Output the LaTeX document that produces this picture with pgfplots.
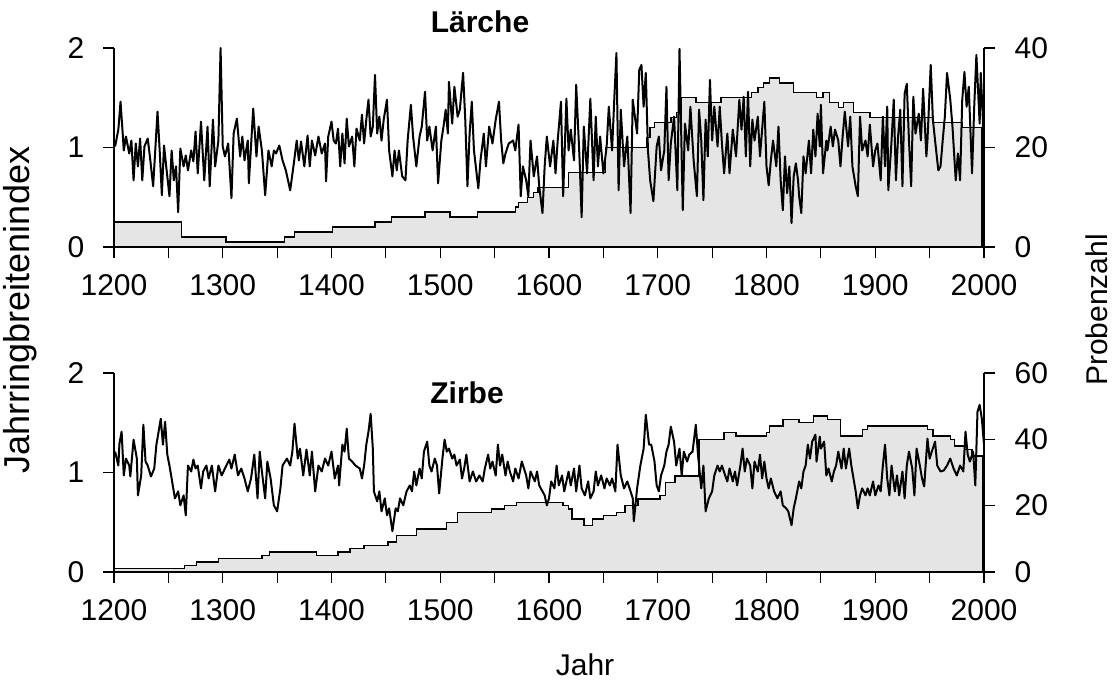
\documentclass[border=0pt]{standalone}
\usepackage{fontspec}
\setmainfont{Liberation Sans}
\usepackage{pgfplots}
\pgfplotsset{compat=1.18}

\newcommand\fs{\fontsize{15}{18}\selectfont}

\pgfplotsset{
  panel/.style={scale only axis, width=435pt, height=99.5pt,
    xmin=1200, xmax=2000, tick align=outside,
    major tick length=5.3pt, minor tick length=5.3pt,
    tick style={black, line width=0.6pt},
    axis line style={black, line width=0.6pt, -},
    tick label style={font=\fs},
    /pgf/number format/assume math mode=true,
    /pgf/number format/1000 sep={}},
  indexax/.style={panel, axis x line*=bottom, axis y line*=left,
    ymin=0, ymax=2, ytick={0,1,2},
    xtick={1200,1300,...,2000}, minor xtick={1250,1350,...,1950},
    xticklabel style={yshift=-5pt}, yticklabel style={xshift=-6pt}},
  countax/.style={panel, axis x line=none, axis y line*=right,
    yticklabel style={xshift=6.5pt}},
  depth/.style={const plot, draw=black, line width=0.7pt, fill=gray!20},
  ring/.style={black, line width=1.0pt, line join=round}
}

\begin{document}
\begin{tikzpicture}
\useasboundingbox (0,0) rectangle (556.5pt,342pt);

% ---------- Laerche ----------
\begin{axis}[countax, at={(57pt,218.5pt)}, anchor=south west,
  ymin=0, ymax=40, ytick={0,20,40}]
\addplot[depth] coordinates {
(1200,5) (1262,2) (1303,1) (1357,2) (1366,3) (1401,4) (1440,5) (1455,6)
(1486,7) (1509,6) (1534,7) (1569,8) (1572,9) (1580,10) (1586,11) (1590,12)
(1618,15) (1652,20) (1690,22) (1693,24) (1697,25) (1712,26) (1717,27)
(1722,30) (1735,29) (1758,30) (1786,31) (1792,32) (1797,33) (1803,34)
(1812,33) (1825,31) (1846,30) (1852,31) (1858,29) (1866,28) (1871,29)
(1880,27) (1895,26) (1953,25) (1980,24) (1998,0) (2000,0)
} \closedcycle;
\end{axis}

\begin{axis}[indexax, at={(57pt,218.5pt)}, anchor=south west]
\addplot[ring] coordinates {
(1201,1.01) (1204,1.18) (1206,1.46) (1208,1.14) (1209,0.97) (1211,1.11)
(1214,0.94) (1216,1.07) (1218,0.67) (1220,1.04) (1222,0.81) (1224,1.09)
(1226,0.67) (1228,1.01) (1231,1.09) (1233,0.91) (1236,0.61) (1240,1.36)
(1242,0.97) (1244,0.52) (1246,1.02) (1248,0.81) (1251,0.51) (1253,0.97)
(1255,0.67) (1257,0.81) (1259,0.35) (1261,0.99) (1264,0.81) (1266,0.92)
(1268,0.77) (1271,0.97) (1273,0.86) (1275,1.16) (1277,0.74) (1280,1.26)
(1283,0.67) (1286,1.21) (1288,0.61) (1291,1.28) (1293,0.81) (1296,1.07)
(1298,2.00) (1300,1.01) (1302,0.91) (1305,1.04) (1308,0.49) (1310,1.14)
(1313,1.29) (1316,0.91) (1318,1.11) (1320,0.87) (1323,1.07) (1324,0.64)
(1328,1.39) (1331,0.91) (1333,1.21) (1336,0.97) (1339,0.52) (1342,0.97)
(1345,0.81) (1347,0.97) (1349,0.94) (1352,1.02) (1355,0.87) (1358,0.77)
(1362,0.57) (1365,0.81) (1368,1.07) (1370,0.87) (1372,1.06) (1375,0.81)
(1378,1.12) (1380,0.81) (1382,1.07) (1385,0.92) (1388,1.11) (1391,0.94)
(1394,1.04) (1395,0.66) (1397,1.11) (1400,1.26) (1402,1.07) (1404,1.04)
(1406,1.19) (1408,0.81) (1410,1.14) (1412,0.84) (1414,1.29) (1416,1.01)
(1419,1.11) (1421,0.81) (1423,1.19) (1426,1.07) (1428,1.33) (1430,1.04)
(1432,1.28) (1434,1.48) (1436,1.11) (1438,1.21) (1440,1.73) (1442,1.14)
(1444,1.31) (1446,1.07) (1448,1.28) (1451,1.48) (1453,0.97) (1456,0.71)
(1458,0.97) (1460,0.77) (1462,0.97) (1465,0.71) (1468,0.67) (1470,1.07)
(1473,1.43) (1475,1.11) (1478,0.81) (1481,1.11) (1483,1.21) (1486,1.56)
(1488,1.07) (1490,1.21) (1493,0.97) (1496,1.21) (1498,0.64) (1501,1.07)
(1503,1.21) (1505,1.38) (1507,1.14) (1508,1.66) (1511,1.24) (1513,1.61)
(1516,1.31) (1518,1.38) (1521,1.75) (1523,1.28) (1525,0.61) (1527,1.14)
(1529,1.46) (1531,0.97) (1535,0.59) (1537,0.87) (1540,1.14) (1542,0.81)
(1545,1.21) (1548,1.04) (1551,1.28) (1554,1.46) (1556,1.07) (1558,0.84)
(1560,0.94) (1563,1.04) (1567,1.07) (1569,0.97) (1572,1.23) (1574,0.51)
(1576,0.81) (1579,0.67) (1581,0.51) (1583,1.07) (1586,0.71) (1589,0.91)
(1591,0.61) (1594,0.34) (1596,0.81) (1598,1.11) (1601,0.81) (1604,1.07)
(1606,0.74) (1608,1.07) (1611,1.46) (1613,0.51) (1616,1.49) (1618,0.97)
(1620,1.18) (1623,0.87) (1625,1.63) (1628,0.91) (1630,0.30) (1632,1.21)
(1635,0.74) (1638,1.49) (1641,0.67) (1643,1.31) (1645,0.81) (1647,1.11)
(1650,0.74) (1653,1.01) (1655,1.41) (1658,0.97) (1660,1.48) (1662,1.95)
(1664,0.57) (1666,1.38) (1669,0.81) (1672,1.11) (1675,0.34) (1677,1.48)
(1681,1.14) (1683,1.78) (1685,1.83) (1687,1.41) (1689,1.75) (1691,0.97)
(1693,0.67) (1696,0.46) (1699,1.01) (1701,1.11) (1703,0.77) (1706,0.97)
(1708,1.61) (1710,0.67) (1712,1.04) (1715,1.31) (1718,0.57) (1720,1.99)
(1723,0.37) (1725,1.24) (1728,0.97) (1730,1.41) (1733,0.87) (1736,0.51)
(1738,1.38) (1740,1.07) (1742,0.47) (1744,1.28) (1746,0.91) (1748,1.68)
(1750,1.07) (1752,1.41) (1755,1.01) (1757,1.41) (1759,1.04) (1761,0.74)
(1764,1.14) (1766,0.74) (1769,1.18) (1772,0.91) (1775,1.48) (1777,1.18)
(1779,1.51) (1781,0.91) (1783,1.56) (1785,0.81) (1787,1.28) (1789,1.07)
(1792,1.31) (1794,0.91) (1798,1.46) (1800,0.81) (1802,0.62) (1804,0.87)
(1806,1.07) (1809,0.81) (1811,1.21) (1813,0.67) (1815,0.37) (1817,0.91)
(1819,0.54) (1821,0.81) (1823,0.24) (1825,0.71) (1827,0.84) (1829,0.67)
(1830,0.51) (1832,0.34) (1834,0.91) (1836,0.74) (1839,1.07) (1841,0.74)
(1843,1.18) (1845,0.91) (1847,1.34) (1849,1.01) (1850,1.43) (1852,0.74)
(1855,1.07) (1856,0.97) (1859,1.21) (1861,1.01) (1863,1.18) (1866,1.07)
(1868,0.81) (1870,1.11) (1872,1.36) (1875,1.01) (1877,1.31) (1879,0.81)
(1882,0.61) (1884,0.51) (1886,1.31) (1888,0.97) (1891,1.07) (1893,0.91)
(1895,1.23) (1898,0.81) (1900,0.97) (1902,1.04) (1905,0.67) (1907,1.31)
(1909,0.81) (1911,1.41) (1912,0.57) (1915,1.07) (1917,1.48) (1919,0.67)
(1921,1.11) (1923,1.38) (1925,0.61) (1927,1.54) (1929,1.64) (1931,1.07)
(1933,0.61) (1935,1.51) (1937,1.14) (1940,1.34) (1942,1.07) (1944,1.59)
(1947,0.91) (1948,1.07) (1951,1.83) (1953,1.28) (1955,1.07) (1958,0.77)
(1960,0.81) (1962,1.07) (1964,1.31) (1966,1.75) (1969,1.48) (1971,1.21)
(1974,0.67) (1976,0.94) (1978,0.67) (1980,1.48) (1982,1.76) (1984,1.41)
(1986,1.61) (1989,0.74) (1991,1.41) (1993,1.93) (1996,1.24) (1997,1.75)
(1999,1.28) (2000,0)
};
\end{axis}

% ---------- Zirbe ----------
\begin{axis}[countax, at={(57pt,56pt)}, anchor=south west,
  ymin=0, ymax=60, ytick={0,20,40,60}]
\addplot[depth] coordinates {
(1200,1) (1265,2) (1276,3) (1296,4) (1336,5) (1343,6) (1386,5) (1406,6)
(1417,7) (1430,8) (1452,9) (1460,11) (1478,13) (1506,15) (1516,18)
(1547,19) (1559,20) (1570,21) (1613,20) (1618,19) (1621,16) (1632,14)
(1640,16) (1650,17) (1662,18) (1670,20) (1682,22) (1702,23) (1707,27)
(1716,29) (1738,40) (1761,42) (1772,41) (1790,41) (1800,42) (1803,44)
(1815,46) (1830,45) (1843,47) (1856,46) (1868,41) (1888,43) (1893,44)
(1948,43) (1953,41) (1969,40) (1973,38) (1982,37) (1989,35) (1999,0)
(2000,0)
} \closedcycle;
\end{axis}

\begin{axis}[indexax, at={(57pt,56pt)}, anchor=south west]
\addplot[ring] coordinates {
(1201,1.21) (1204,1.07) (1205,1.29) (1207,1.41) (1209,0.97) (1211,1.14)
(1214,1.07) (1215,0.96) (1218,1.33) (1221,1.14) (1222,0.77) (1225,0.97)
(1227,1.48) (1229,1.11) (1231,1.07) (1234,0.96) (1237,1.04) (1239,1.28)
(1241,1.41) (1243,1.54) (1245,1.28) (1247,1.51) (1249,1.18) (1251,1.07)
(1253,0.94) (1256,0.74) (1259,0.81) (1261,0.67) (1264,0.77) (1266,0.57)
(1268,1.07) (1271,1.01) (1273,1.13) (1275,1.04) (1277,1.07) (1280,0.84)
(1282,1.01) (1285,1.07) (1287,0.94) (1290,1.07) (1293,0.81) (1296,1.07)
(1299,0.97) (1302,1.04) (1306,1.13) (1308,1.04) (1311,1.18) (1314,0.97)
(1317,1.04) (1320,0.94) (1323,0.81) (1326,0.94) (1329,1.18) (1332,0.74)
(1334,1.21) (1336,1.01) (1339,0.74) (1341,1.11) (1344,0.94) (1347,0.67)
(1350,0.61) (1353,0.84) (1355,1.07) (1359,1.14) (1362,1.07) (1364,1.21)
(1366,1.49) (1369,1.14) (1371,1.24) (1374,0.97) (1377,1.23) (1380,0.97)
(1382,1.21) (1385,0.81) (1388,1.07) (1391,1.01) (1394,1.14) (1397,1.07)
(1400,1.21) (1403,0.94) (1406,1.07) (1407,0.87) (1410,1.28) (1412,1.21)
(1414,1.44) (1416,1.14) (1419,1.11) (1422,1.07) (1426,1.04) (1428,0.94)
(1430,1.07) (1432,1.28) (1434,1.41) (1436,1.59) (1438,1.24) (1439,0.81)
(1442,0.71) (1444,0.81) (1446,0.61) (1449,0.74) (1451,0.57) (1453,0.64)
(1456,0.41) (1459,0.64) (1461,0.61) (1463,0.74) (1466,0.67) (1469,0.81)
(1472,0.87) (1474,0.81) (1476,1.01) (1478,0.87) (1481,1.04) (1483,0.94)
(1485,1.21) (1488,1.31) (1490,1.07) (1492,1.01) (1495,1.14) (1497,1.07)
(1499,0.79) (1502,1.14) (1504,1.33) (1506,1.21) (1508,1.24) (1511,1.14)
(1513,1.18) (1515,1.07) (1518,1.13) (1520,0.94) (1522,1.04) (1524,1.18)
(1527,0.91) (1530,1.01) (1533,0.91) (1536,0.97) (1539,0.91) (1541,1.04)
(1544,1.18) (1546,1.04) (1548,1.11) (1551,0.97) (1553,1.28) (1555,1.07)
(1557,1.18) (1560,0.97) (1562,1.11) (1564,1.01) (1567,0.91) (1569,1.04)
(1572,0.94) (1575,1.11) (1577,1.04) (1579,0.97) (1581,0.84) (1583,1.01)
(1587,0.91) (1589,1.01) (1591,0.87) (1594,0.81) (1596,0.77) (1598,0.67)
(1600,0.74) (1602,0.91) (1605,0.84) (1607,1.07) (1609,0.87) (1612,0.97)
(1614,0.81) (1618,1.01) (1620,0.87) (1623,1.04) (1625,0.81) (1628,1.07)
(1630,0.84) (1633,0.77) (1636,0.91) (1638,0.74) (1641,0.81) (1643,1.01)
(1645,0.87) (1648,0.97) (1651,0.84) (1653,0.94) (1656,0.87) (1658,0.94)
(1661,0.81) (1663,1.28) (1666,0.97) (1669,0.84) (1672,0.91) (1675,0.81)
(1677,0.74) (1678,0.51) (1681,0.84) (1684,1.07) (1687,1.24) (1689,1.58)
(1692,1.28) (1694,1.28) (1697,1.11) (1699,0.87) (1701,0.81) (1703,0.97)
(1706,1.07) (1708,1.21) (1710,1.28) (1712,1.46) (1715,1.31) (1717,1.07)
(1720,1.24) (1722,0.97) (1724,1.21) (1727,1.11) (1729,1.18) (1732,1.21)
(1735,1.48) (1737,1.18) (1740,0.84) (1742,1.07) (1744,0.61) (1747,0.74)
(1750,0.81) (1752,0.97) (1755,1.07) (1757,1.01) (1759,1.07) (1762,0.97)
(1764,0.91) (1766,1.04) (1769,0.91) (1771,1.01) (1773,0.87) (1776,1.07)
(1778,1.24) (1780,1.01) (1782,1.14) (1785,1.07) (1787,0.84) (1789,1.11)
(1792,1.01) (1794,1.18) (1796,0.94) (1798,1.11) (1800,0.94) (1802,0.84)
(1804,0.94) (1807,0.81) (1810,0.74) (1813,0.81) (1815,0.67) (1818,0.64)
(1820,0.61) (1823,0.47) (1825,0.64) (1827,0.74) (1830,0.91) (1832,0.84)
(1834,1.01) (1836,1.07) (1838,1.28) (1840,1.14) (1842,1.31) (1845,1.38)
(1846,1.11) (1849,1.36) (1850,1.24) (1853,1.31) (1855,0.97) (1857,1.04)
(1860,0.91) (1862,1.01) (1864,1.07) (1866,1.21) (1869,1.04) (1871,1.24)
(1873,1.04) (1876,1.24) (1878,1.07) (1880,0.94) (1882,0.81) (1884,0.64)
(1886,0.77) (1888,0.84) (1891,0.77) (1893,0.84) (1895,0.77) (1898,0.91)
(1900,0.77) (1903,0.87) (1905,0.81) (1907,1.07) (1909,1.28) (1911,0.94)
(1913,0.77) (1915,1.07) (1918,0.81) (1920,0.97) (1922,0.77) (1925,1.01)
(1927,0.74) (1929,1.07) (1931,1.21) (1934,1.04) (1936,0.77) (1938,1.24)
(1941,1.07) (1943,0.94) (1945,0.86) (1948,1.34) (1950,1.14) (1952,1.21)
(1955,1.31) (1957,1.07) (1960,1.01) (1963,1.02) (1966,1.07) (1969,1.14)
(1972,1.04) (1975,0.97) (1978,1.07) (1981,1.01) (1983,1.41) (1985,1.18)
(1987,1.11) (1990,1.21) (1992,0.87) (1994,1.61) (1996,1.68) (1998,1.54)
(2000,1.28)
};
\end{axis}

\node[font=\fs\bfseries] at (240pt,331pt) {Lärche};
\node[font=\fs\bfseries] at (233.5pt,145.5pt) {Zirbe};
\node[font=\fontsize{18}{21}\selectfont, rotate=90] at (10pt,187pt) {Jahrringbreitenindex};
\node[font=\fs, rotate=90] at (548.5pt,187pt) {Probenzahl};
\node[font=\fs] at (292.5pt,9.5pt) {Jahr};
\end{tikzpicture}
\end{document}
